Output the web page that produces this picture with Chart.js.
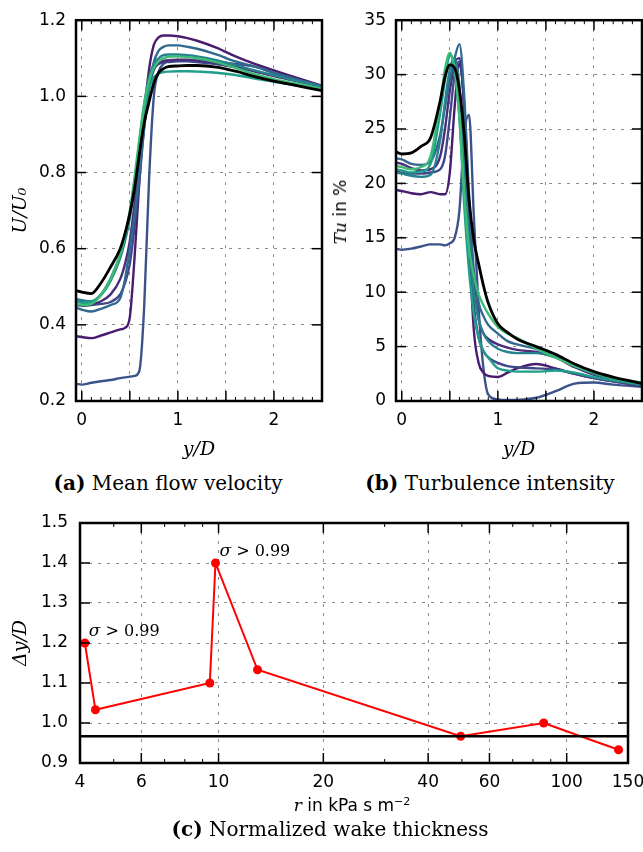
<!DOCTYPE html>
<html lang="en">
<head>
    <meta charset="UTF-8">
    <title>Wake profiles</title>
    <script src="https://cdn.jsdelivr.net/npm/chart.js"></script>
    <style>
        body {
            margin: 0;
            width: 643px;
            height: 852px;
            position: relative;
            overflow: hidden;
            background: #fff;
        }
        .box { position: absolute; }
        .cap {
            position: absolute;
            font-family: "DejaVu Serif", serif;
            font-size: 20px;
            line-height: 24px;
            white-space: nowrap;
            transform: translateX(-50%);
        }
        .axis-title {
            position: absolute;
            font-family: "DejaVu Sans", sans-serif;
            font-size: 17px;
            white-space: nowrap;
            transform: translate(-50%, -50%);
        }
        .math { font-family: "DejaVu Serif", serif; font-style: italic; }
    </style>
</head>
<body>
    <div class="box" style="left:0;top:0;width:330px;height:470px"><canvas id="velChart"></canvas></div>
    <div class="box" style="left:330px;top:0;width:313px;height:470px"><canvas id="tuChart"></canvas></div>
    <div class="box" style="left:0;top:500px;width:643px;height:320px"><canvas id="wakeChart"></canvas></div>

    <div class="axis-title" style="left:340px;top:212px;transform:translate(-50%,-50%) rotate(-90deg)"><span class="math">Tu</span> in %</div>
    <div class="axis-title" style="left:352px;top:805px"><span class="math">r</span> in kPa s m<sup style="font-size:11px">−2</sup></div>

    <div class="cap" style="left:168px;top:471px"><b>(a)</b> Mean flow velocity</div>
    <div class="cap" style="left:490px;top:471px"><b>(b)</b> Turbulence intensity</div>
    <div class="cap" style="left:330px;top:817px"><b>(c)</b> Normalized wake thickness</div>

    <script>
        // profile positions y/D
        const yD = [-0.06, 0, 0.1, 0.2, 0.3, 0.4, 0.45, 0.5, 0.55, 0.6, 0.65, 0.7, 0.75, 0.8, 0.85, 0.9, 1.0, 1.1, 1.2, 1.4, 1.6, 1.8, 2.0, 2.2, 2.5];

        // mean velocity U/U0
        const velBlack   = [0.490, 0.486, 0.482, 0.510, 0.552, 0.600, 0.640, 0.692, 0.760, 0.850, 0.930, 0.985, 1.035, 1.062, 1.073, 1.078, 1.080, 1.081, 1.081, 1.077, 1.066, 1.052, 1.040, 1.030, 1.015];
        const velGreen   = [0.455, 0.452, 0.455, 0.478, 0.520, 0.585, 0.635, 0.700, 0.790, 0.890, 0.980, 1.040, 1.075, 1.092, 1.100, 1.104, 1.105, 1.103, 1.100, 1.090, 1.075, 1.058, 1.045, 1.035, 1.020];
        const velMint    = [0.462, 0.458, 0.460, 0.480, 0.522, 0.585, 0.630, 0.690, 0.775, 0.870, 0.960, 1.020, 1.050, 1.060, 1.064, 1.065, 1.066, 1.066, 1.065, 1.062, 1.056, 1.047, 1.038, 1.030, 1.018];
        const velTeal    = [0.468, 0.465, 0.462, 0.478, 0.515, 0.575, 0.620, 0.680, 0.770, 0.880, 0.980, 1.050, 1.085, 1.100, 1.108, 1.110, 1.110, 1.108, 1.105, 1.095, 1.082, 1.068, 1.055, 1.043, 1.025];
        const velSteel   = [0.445, 0.440, 0.435, 0.442, 0.452, 0.470, 0.520, 0.600, 0.690, 0.800, 0.920, 1.020, 1.090, 1.120, 1.130, 1.134, 1.134, 1.130, 1.125, 1.110, 1.092, 1.078, 1.062, 1.047, 1.027];
        const velViolet  = [0.462, 0.460, 0.455, 0.462, 0.480, 0.520, 0.560, 0.620, 0.720, 0.840, 0.960, 1.040, 1.075, 1.088, 1.093, 1.095, 1.096, 1.096, 1.094, 1.088, 1.078, 1.066, 1.053, 1.042, 1.025];
        const velIndigo  = [0.452, 0.450, 0.452, 0.455, 0.460, 0.480, 0.510, 0.560, 0.660, 0.780, 0.920, 1.020, 1.070, 1.085, 1.089, 1.090, 1.092, 1.092, 1.090, 1.085, 1.076, 1.066, 1.055, 1.044, 1.027];
        const velPlum    = [0.370, 0.368, 0.365, 0.372, 0.380, 0.388, 0.392, 0.420, 0.580, 0.780, 0.950, 1.070, 1.135, 1.155, 1.160, 1.160, 1.158, 1.153, 1.146, 1.128, 1.105, 1.085, 1.068, 1.052, 1.028];
        const velBlue    = [0.245, 0.243, 0.248, 0.252, 0.255, 0.260, 0.262, 0.264, 0.266, 0.280, 0.450, 0.780, 1.000, 1.065, 1.085, 1.092, 1.095, 1.095, 1.093, 1.090, 1.085, 1.078, 1.062, 1.048, 1.025];

        // turbulence intensity Tu in %
        const tuBlack   = [22.9, 22.7, 22.8, 23.4, 24.2, 27.6, 29.8, 30.9, 30.6, 28.6, 24.5, 18.5, 14.8, 12.6, 10.6, 9.0, 7.1, 6.3, 5.7, 5.0, 4.3, 3.4, 2.7, 2.2, 1.6];
        const tuGreen   = [21.6, 21.5, 21.3, 21.5, 22.5, 27.5, 30.5, 32.0, 30.5, 26.0, 19.0, 14.0, 11.5, 9.8, 8.8, 8.0, 6.8, 6.2, 5.8, 4.8, 4.0, 3.2, 2.6, 2.1, 1.7];
        const tuMint    = [21.3, 21.2, 21.0, 21.1, 21.8, 26.5, 29.5, 31.8, 30.5, 26.0, 18.0, 12.0, 8.0, 5.8, 4.6, 4.0, 3.0, 2.8, 2.7, 2.7, 2.8, 2.6, 2.2, 1.9, 1.5];
        const tuTeal    = [21.0, 20.9, 20.7, 20.6, 20.8, 24.0, 27.5, 30.5, 31.5, 29.0, 22.0, 15.0, 10.0, 7.5, 6.2, 5.5, 4.8, 4.5, 4.4, 4.4, 4.0, 3.2, 2.5, 2.0, 1.6];
        const tuSteel   = [22.3, 22.2, 21.8, 21.7, 22.0, 24.5, 27.0, 29.5, 31.5, 32.8, 28.0, 19.0, 12.0, 9.0, 7.8, 7.0, 6.2, 5.5, 5.2, 4.8, 4.2, 3.3, 2.6, 2.1, 1.6];
        const tuViolet  = [21.9, 21.8, 21.4, 21.2, 21.3, 22.5, 25.0, 28.5, 31.0, 31.5, 27.0, 18.0, 11.0, 7.5, 6.2, 5.7, 5.2, 4.9, 4.7, 4.5, 4.0, 3.1, 2.4, 1.9, 1.5];
        const tuIndigo  = [21.1, 21.0, 20.9, 20.9, 21.0, 21.3, 22.5, 26.0, 30.0, 31.2, 27.0, 17.0, 9.0, 5.8, 4.6, 4.0, 3.5, 3.2, 3.1, 3.0, 2.9, 2.5, 2.1, 1.8, 1.4];
        const tuPlum    = [19.4, 19.3, 19.1, 19.0, 19.2, 19.0, 19.0, 21.0, 27.0, 31.0, 27.0, 15.0, 6.5, 3.5, 2.6, 2.3, 2.2, 2.6, 3.0, 3.4, 3.0, 2.5, 2.1, 1.8, 1.4];
        const tuBlue    = [14.0, 13.9, 14.0, 14.2, 14.4, 14.4, 14.3, 14.5, 15.0, 17.5, 24.5, 26.3, 17.0, 8.5, 3.0, 0.6, 0.15, 0.1, 0.1, 0.3, 0.9, 1.6, 1.7, 1.5, 1.3];

        const curveColors = ['#000000', '#3dbb74', '#1f9e89', '#26828e', '#31688e', '#472d7b', '#3f4788', '#481c6e', '#3b528b'];
        const velSeries = [velBlack, velGreen, velMint, velTeal, velSteel, velViolet, velIndigo, velPlum, velBlue];
        const tuSeries = [tuBlack, tuGreen, tuMint, tuTeal, tuSteel, tuViolet, tuIndigo, tuPlum, tuBlue];

        // wake thickness vs flow resistance
        const rValues = [4.13, 4.43, 9.44, 9.8, 12.94, 49.6, 85.9, 140.9];
        const wakeThickness = [1.2, 1.033, 1.1, 1.4, 1.133, 0.967, 1.0, 0.933];
        const solidThickness = 0.967;
        const sigmaLabelIdx = [0, 3];

        // ticks
        const yDTicks = [0, 0.5, 1, 1.5, 2];
        const yDMinor = [0.1, 0.2, 0.3, 0.4, 0.6, 0.7, 0.8, 0.9, 1.1, 1.2, 1.3, 1.4, 1.6, 1.7, 1.8, 1.9, 2.1, 2.2, 2.3, 2.4];
        const velTicks = [0.2, 0.4, 0.6, 0.8, 1.0, 1.2];
        const tuTicks = [0, 5, 10, 15, 20, 25, 30, 35];
        const rTicks = [4, 6, 10, 20, 40, 60, 100, 150];
        const rMinor = [5, 7, 8, 9, 30, 50, 70, 80, 90];
        const wakeTicks = [0.9, 1.0, 1.1, 1.2, 1.3, 1.4, 1.5];

        const tickFont = { family: 'DejaVu Sans', size: 17 };
        const mathFont = { family: 'DejaVu Serif', size: 19, style: 'italic' };
        const gridStyle = { color: '#8c8c8c', lineWidth: 1, drawTicks: false };
        const borderStyle = { display: false, dash: [3, 6] };

        // black frame with inward ticks, like the classic matplotlib look
        const framePlugin = {
            id: 'frame',
            afterDatasetsDraw(chart, args, opts) {
                const { ctx, chartArea: a, scales } = chart;
                ctx.save();
                ctx.strokeStyle = '#000';
                const seg = (x1, y1, x2, y2) => { ctx.beginPath(); ctx.moveTo(x1, y1); ctx.lineTo(x2, y2); ctx.stroke(); };
                const xTicks = (vals, len) => vals.forEach(v => {
                    const px = scales.x.getPixelForValue(v);
                    seg(px, a.bottom, px, a.bottom - len);
                    seg(px, a.top, px, a.top + len);
                });
                const yTicks = (vals, len) => vals.forEach(v => {
                    const py = scales.y.getPixelForValue(v);
                    seg(a.left, py, a.left + len, py);
                    seg(a.right, py, a.right - len, py);
                });
                ctx.lineWidth = 1.5;
                xTicks(scales.x.ticks.map(t => t.value), 10);
                yTicks(scales.y.ticks.map(t => t.value), 10);
                ctx.lineWidth = 1;
                xTicks(opts.xMinor || [], 4);
                ctx.lineWidth = 2.5;
                ctx.strokeRect(a.left, a.top, a.width, a.height);
                ctx.restore();
            }
        };

        const sigmaPlugin = {
            id: 'sigma',
            afterDatasetsDraw(chart) {
                const { ctx } = chart;
                const meta = chart.getDatasetMeta(1);
                ctx.save();
                ctx.fillStyle = '#000';
                ctx.textBaseline = 'middle';
                sigmaLabelIdx.forEach(i => {
                    const pt = meta.data[i];
                    let x = pt.x + 4;
                    const y = pt.y - 11;
                    ctx.font = 'italic 17px "DejaVu Serif"';
                    ctx.fillText('σ', x, y);
                    x += ctx.measureText('σ').width;
                    ctx.font = '16px "DejaVu Serif"';
                    ctx.fillText(' > 0.99', x, y);
                });
                ctx.restore();
            }
        };

        function profileChart(id, series, yMin, yMax, yTickVals, yTitle, yWidth, padRight) {
            return new Chart(document.getElementById(id), {
                type: 'line',
                data: {
                    datasets: series.map((vals, i) => ({
                        data: yD.map((x, j) => ({ x: x, y: vals[j] })),
                        borderColor: curveColors[i],
                        borderWidth: i === 0 ? 2.8 : 2.4,
                        pointRadius: 0,
                        cubicInterpolationMode: 'monotone',
                        fill: false
                    }))
                },
                options: {
                    responsive: true,
                    maintainAspectRatio: false,
                    animation: false,
                    events: [],
                    layout: { padding: { top: 20, right: padRight, left: 0, bottom: 0 } },
                    plugins: { legend: { display: false }, tooltip: { enabled: false }, frame: { xMinor: yDMinor } },
                    scales: {
                        x: {
                            type: 'linear',
                            min: -0.06,
                            max: 2.5,
                            afterBuildTicks: s => { s.ticks = yDTicks.map(v => ({ value: v })); },
                            afterFit: s => { s.height = 69; },
                            grid: gridStyle,
                            border: borderStyle,
                            ticks: {
                                font: tickFont, color: '#000', padding: 9, maxRotation: 0,
                                callback: v => Number.isInteger(v) ? String(v) : ''
                            },
                            title: { display: true, text: 'y/D', font: mathFont, color: '#000', padding: { top: 0, bottom: 9 } }
                        },
                        y: {
                            min: yMin,
                            max: yMax,
                            afterBuildTicks: s => { s.ticks = yTickVals.map(v => ({ value: v })); },
                            afterFit: s => { s.width = yWidth; },
                            grid: gridStyle,
                            border: borderStyle,
                            ticks: {
                                font: tickFont, color: '#000', padding: 10,
                                callback: v => yTitle ? v.toFixed(1) : String(v)
                            },
                            title: { display: !!yTitle, text: yTitle, font: mathFont, color: '#000', padding: { top: 10, bottom: 0 } }
                        }
                    }
                },
                plugins: [framePlugin]
            });
        }

        profileChart('velChart', velSeries, 0.2, 1.2, velTicks, 'U/U₀', 76, 8);
        profileChart('tuChart', tuSeries, 0, 35, tuTicks, '', 66, 1);

        new Chart(document.getElementById('wakeChart'), {
            type: 'line',
            data: {
                datasets: [
                    {
                        data: [{ x: rTicks[0], y: solidThickness }, { x: rTicks[rTicks.length - 1], y: solidThickness }],
                        borderColor: '#000',
                        borderWidth: 2.5,
                        pointRadius: 0
                    },
                    {
                        data: rValues.map((x, i) => ({ x: x, y: wakeThickness[i] })),
                        borderColor: '#ff0000',
                        backgroundColor: '#ff0000',
                        borderWidth: 2,
                        pointRadius: 4.5,
                        pointBorderWidth: 0,
                        tension: 0
                    }
                ]
            },
            options: {
                responsive: true,
                maintainAspectRatio: false,
                animation: false,
                events: [],
                layout: { padding: { top: 23, right: 15, left: 0, bottom: 0 } },
                plugins: { legend: { display: false }, tooltip: { enabled: false }, frame: { xMinor: rMinor } },
                scales: {
                    x: {
                        type: 'logarithmic',
                        min: 4,
                        max: 150,
                        afterBuildTicks: s => { s.ticks = rTicks.map(v => ({ value: v })); },
                        afterFit: s => { s.height = 57; s.paddingRight = 0; s.paddingLeft = 0; },
                        grid: gridStyle,
                        border: borderStyle,
                        ticks: { font: tickFont, color: '#000', padding: 9, maxRotation: 0, autoSkip: false, callback: v => String(v) }
                    },
                    y: {
                        min: 0.9,
                        max: 1.5,
                        afterBuildTicks: s => { s.ticks = wakeTicks.map(v => ({ value: v })); },
                        afterFit: s => { s.width = 80; },
                        grid: gridStyle,
                        border: borderStyle,
                        ticks: { font: tickFont, color: '#000', padding: 12, callback: v => v.toFixed(1) },
                        title: { display: true, text: 'Δy/D', font: mathFont, color: '#000', padding: { top: 10, bottom: 0 } }
                    }
                }
            },
            plugins: [framePlugin, sigmaPlugin]
        });
    </script>
</body>
</html>
